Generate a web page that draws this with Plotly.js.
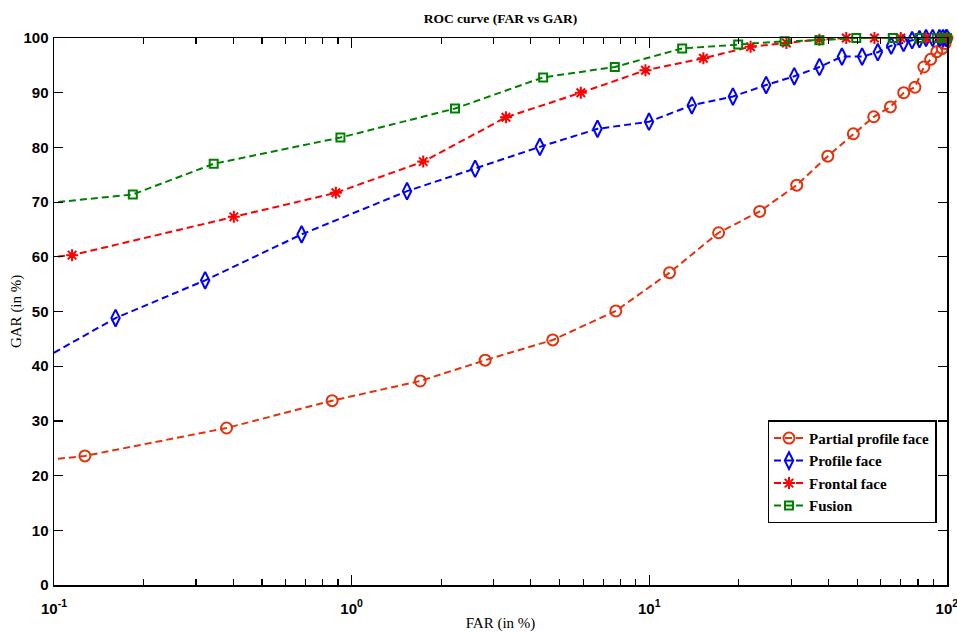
<!DOCTYPE html>
<html>
<head>
<meta charset="utf-8">
<script src="https://cdn.plot.ly/plotly-3.0.1.min.js"></script>
<style>html,body{margin:0;padding:0;background:#fff;}#chart{width:957px;height:632px;}</style>
</head>
<body>
<div id="chart"></div>
<script>
// ---- data ----
const seriesNames = ["Partial profile face", "Profile face", "Frontal face", "Fusion"];

const partialFAR = [0.08, 0.127, 0.38, 0.86, 1.70, 2.81, 4.74, 7.72, 11.7, 17.1, 23.5, 31.3, 39.8, 48.5, 56.8, 64.6, 71.6, 78.1, 83.7, 88.2, 92.5, 96.5, 98.6, 100];
const partialGAR = [22.4, 23.6, 28.7, 33.7, 37.3, 41.1, 44.8, 50.1, 57.1, 64.4, 68.3, 73.1, 78.4, 82.5, 85.6, 87.4, 90.0, 91.0, 94.7, 96.1, 97.5, 98.1, 99.0, 100];

const profileFAR = [0.08, 0.161, 0.322, 0.679, 1.535, 2.60, 4.29, 6.70, 9.98, 13.9, 19.1, 24.7, 30.7, 37.3, 44.4, 51.9, 58.6, 65.0, 71.5, 76.4, 80.9, 85.1, 89.6, 94.4, 97.0, 99.4, 100];
const profileGAR = [39.5, 48.8, 55.7, 64.1, 72.0, 76.1, 80.1, 83.4, 84.7, 87.7, 89.3, 91.4, 93.0, 94.7, 96.6, 96.6, 97.4, 98.6, 99.1, 99.6, 99.8, 100, 100, 100, 100, 100, 100];

const frontalFAR = [0.08, 0.115, 0.402, 0.885, 1.74, 3.30, 5.89, 9.71, 15.2, 21.9, 28.9, 37.3, 45.9, 57.1, 70, 85, 95, 100];
const frontalGAR = [59.5, 60.3, 67.3, 71.7, 77.4, 85.5, 90.0, 94.1, 96.3, 98.4, 99.1, 99.7, 100, 100, 100, 100, 100, 100];

const fusionFAR = [0.08, 0.184, 0.344, 0.917, 2.225, 4.40, 7.66, 12.9, 19.9, 28.5, 37.3, 49.6, 65.8, 80.9, 92.5, 97.5, 100];
const fusionGAR = [69.4, 71.4, 77.0, 81.8, 87.1, 92.8, 94.7, 98.1, 98.8, 99.4, 99.6, 100, 100, 100, 100, 100, 100];

const xTickVals = [0.1, 1, 10, 100];
const xTickText = ["10<sup>-1</sup>", "10<sup>0</sup>", "10<sup>1</sup>", "10<sup>2</sup>"];
const xMinorTickVals = [0.2, 0.3, 0.4, 0.5, 0.6, 0.7, 0.8, 0.9, 2, 3, 4, 5, 6, 7, 8, 9, 20, 30, 40, 50, 60, 70, 80, 90];
const yTickVals = [0, 10, 20, 30, 40, 50, 60, 70, 80, 90, 100];
const xTitle = "FAR (in %)";
const yTitle = "GAR (in %)";

// ---- styling ----
const dashPat = "7px,4px";
function trace(x, y, name, color, symbol, size) {
  return {
    type: "scatter", mode: "lines+markers", x: x, y: y, name: name,
    line: {color: color, width: 2, dash: dashPat},
    marker: {symbol: symbol, size: size, color: color, line: {color: color, width: 2}},
    cliponaxis: false
  };
}
const data = [
  trace(partialFAR, partialGAR, seriesNames[0], "#e2330d", "circle-open", 11),
  trace(profileFAR, profileGAR, seriesNames[1], "#0000ff", "diamond-tall-open", 12),
  trace(frontalFAR, frontalGAR, seriesNames[2], "#ff0000", "asterisk-open", 10),
  trace(fusionFAR, fusionGAR, seriesNames[3], "#008000", "square-open", 8)
];

const tickFont = {family: "Liberation Sans, Arial, sans-serif", size: 15, color: "#000", weight: "bold"};
const serif = "Liberation Serif, Times New Roman, serif";
const L = 53.5, R = 9.5, T = 37.7, B = 47, W = 957, H = 632;
const plotW = W - L - R;

const layout = {
  width: W, height: H,
  paper_bgcolor: "#fff", plot_bgcolor: "#fff",
  margin: {l: L, r: R, t: T, b: B},
  showlegend: true,
  title: {text: "ROC curve (FAR vs GAR)", font: {family: serif, size: 13.5, color: "#000", weight: "bold"},
          x: 0.5, xref: "paper", y: 1 - 18/H, yref: "container", xanchor: "center", yanchor: "middle"},
  xaxis: {
    type: "log", range: [-1, 2.0004], tickmode: "array", tickvals: xTickVals, ticktext: xTickText,
    showgrid: false, zeroline: false,
    showline: true, linecolor: "#000", linewidth: 1.5, mirror: "ticks",
    ticks: "inside", ticklen: 10, tickwidth: 1.2, tickcolor: "#000",
    minor: {tickmode: "array", tickvals: xMinorTickVals, ticks: "inside", ticklen: 6, tickwidth: 1.2, tickcolor: "#000", showgrid: false},
    tickfont: tickFont, ticklabelstandoff: 9, ticklabeloverflow: "allow",
    title: {text: xTitle, font: {family: serif, size: 15, color: "#000"}}
  },
  yaxis: {
    range: [0, 100], tickmode: "array", tickvals: yTickVals,
    showgrid: false, zeroline: false,
    showline: true, linecolor: "#000", linewidth: 1.5, mirror: "ticks",
    ticks: "inside", ticklen: 9, tickwidth: 1.2, tickcolor: "#000",
    tickfont: tickFont, ticklabelstandoff: 1
  },
  annotations: [{
    text: yTitle, textangle: -90, showarrow: false,
    xref: "paper", x: (16 - L) / plotW, xanchor: "center",
    yref: "paper", y: 0.5, yanchor: "middle",
    font: {family: serif, size: 15, color: "#000"}
  }],
  legend: {
    x: 0.799, y: 0.301, xanchor: "left", yanchor: "top",
    bgcolor: "#fff", bordercolor: "#000", borderwidth: 1.5,
    font: {family: serif, size: 15, color: "#000", weight: "bold"},
    itemwidth: 30, tracegroupgap: 0
  }
};

Plotly.newPlot("chart", data, layout, {displayModeBar: false, staticPlot: true});
</script>
</body>
</html>
